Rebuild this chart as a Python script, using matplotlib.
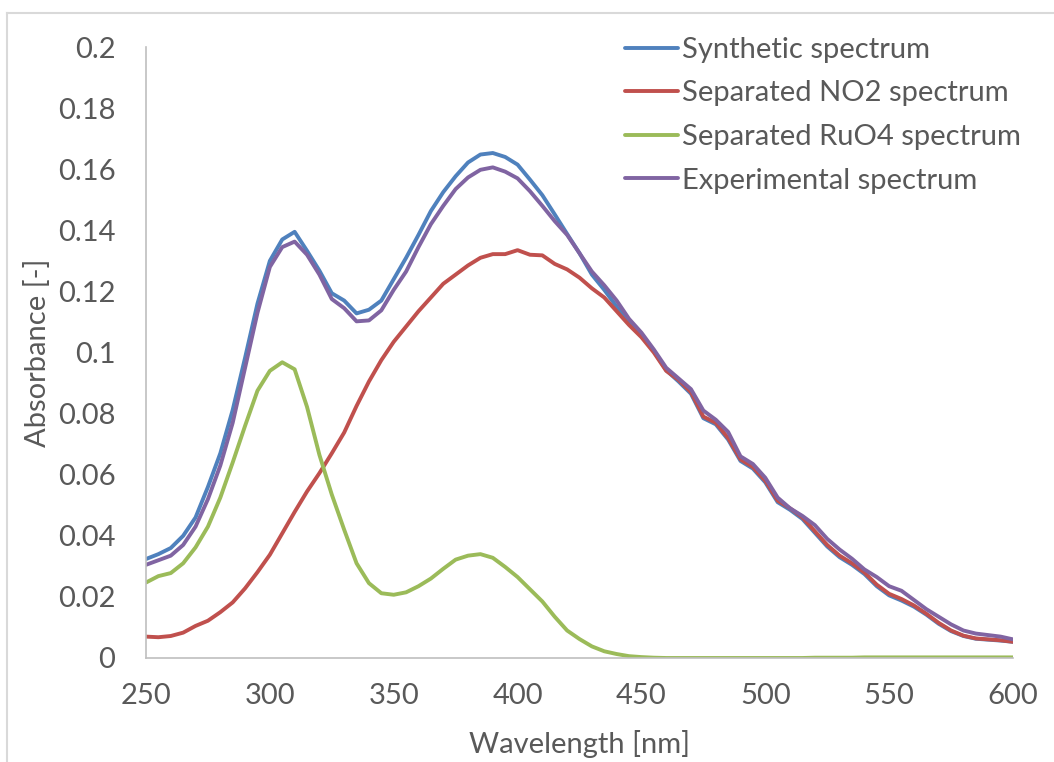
import numpy as np
import matplotlib.pyplot as plt
from matplotlib.lines import Line2D

plt.rcParams['font.family'] = ['Lato', 'DejaVu Sans']

# wavelength grid [nm], values every 5 nm
wavelength = np.arange(250, 601, 5)

synthetic = [
    0.0324, 0.0340, 0.0360, 0.0400, 0.0460, 0.0560, 0.0670, 0.0812, 0.0983, 0.1160,
    0.1300, 0.1370, 0.1395, 0.1333, 0.1268, 0.1194, 0.1170, 0.1128, 0.1140, 0.1170,
    0.1240, 0.1310, 0.1385, 0.1463, 0.1525, 0.1577, 0.1622, 0.1648, 0.1653, 0.1640,
    0.1615, 0.1566, 0.1515, 0.1452, 0.1388, 0.1325, 0.1255, 0.1205, 0.1150, 0.1095,
    0.1055, 0.1005, 0.0942, 0.0905, 0.0865, 0.0785, 0.0765, 0.0715, 0.0645, 0.0620,
    0.0575, 0.0510, 0.0485, 0.0455, 0.0410, 0.0365, 0.0330, 0.0305, 0.0275, 0.0235,
    0.0205, 0.0188, 0.0168, 0.0142, 0.0112, 0.0088, 0.0072, 0.0063, 0.0060, 0.0057,
    0.0053,
]

no2 = [
    0.0070, 0.0068, 0.0072, 0.0083, 0.0105, 0.0122, 0.0150, 0.0182, 0.0228, 0.0281,
    0.0338, 0.0408, 0.0478, 0.0545, 0.0605, 0.0670, 0.0738, 0.0825, 0.0905, 0.0975,
    0.1035, 0.1085, 0.1135, 0.1180, 0.1225, 0.1255, 0.1285, 0.1310, 0.1322, 0.1322,
    0.1335, 0.1320, 0.1318, 0.1290, 0.1272, 0.1245, 0.1210, 0.1180, 0.1135, 0.1090,
    0.1050, 0.1000, 0.0940, 0.0910, 0.0870, 0.0790, 0.0770, 0.0720, 0.0650, 0.0625,
    0.0580, 0.0515, 0.0490, 0.0460, 0.0415, 0.0370, 0.0335, 0.0310, 0.0280, 0.0240,
    0.0210, 0.0193, 0.0172, 0.0145, 0.0115, 0.0090, 0.0073, 0.0064, 0.0061, 0.0058,
    0.0053,
]

ruo4 = [
    0.0247, 0.0268, 0.0278, 0.0310, 0.0362, 0.0430, 0.0525, 0.0640, 0.0760, 0.0875,
    0.0940, 0.0968, 0.0945, 0.0822, 0.0665, 0.0535, 0.0420, 0.0310, 0.0245, 0.0212,
    0.0207, 0.0215, 0.0235, 0.0260, 0.0292, 0.0322, 0.0335, 0.0340, 0.0328, 0.0298,
    0.0265, 0.0225, 0.0185, 0.0135, 0.0090, 0.0062, 0.0038, 0.0022, 0.0013, 0.0006,
    0.0003, 0.0001, 0.0000, 0.0000, 0.0000, 0.0000, 0.0000, 0.0000, 0.0000, 0.0000,
    0.0000, 0.0000, 0.0000, 0.0000, 0.0001, 0.0001, 0.0001, 0.0001, 0.0002, 0.0002,
    0.0002, 0.0002, 0.0002, 0.0002, 0.0002, 0.0002, 0.0002, 0.0002, 0.0002, 0.0002,
    0.0002,
]

experimental = [
    0.0305, 0.0320, 0.0335, 0.0370, 0.0430, 0.0520, 0.0630, 0.0770, 0.0950, 0.1130,
    0.1280, 0.1345, 0.1363, 0.1320, 0.1255, 0.1175, 0.1145, 0.1102, 0.1105, 0.1138,
    0.1205, 0.1265, 0.1345, 0.1420, 0.1480, 0.1535, 0.1573, 0.1598, 0.1606, 0.1592,
    0.1570, 0.1528, 0.1480, 0.1430, 0.1385, 0.1325, 0.1265, 0.1220, 0.1170, 0.1110,
    0.1065, 0.1010, 0.0950, 0.0915, 0.0880, 0.0810, 0.0780, 0.0740, 0.0660, 0.0635,
    0.0590, 0.0525, 0.0490, 0.0465, 0.0435, 0.0390, 0.0355, 0.0325, 0.0290, 0.0265,
    0.0235, 0.0220, 0.0190, 0.0160, 0.0135, 0.0110, 0.0090, 0.0080, 0.0075, 0.0070,
    0.0061,
]

labels = ['Synthetic spectrum', 'Separated NO2 spectrum',
          'Separated RuO4 spectrum', 'Experimental spectrum']
colors = ['#4F81BD', '#C0504D', '#9BBB59', '#8064A2']

text_color = '#595959'
axis_color = '#BFBFBF'
fs = 21

fig = plt.figure(figsize=(10.54, 7.62), dpi=100)
ax = fig.add_axes([146 / 1054, 104 / 762, 867 / 1054, 611 / 762])

for series, label, color in zip([synthetic, no2, ruo4, experimental], labels, colors):
    ax.plot(wavelength, series, color=color, lw=2.8, label=label,
            solid_capstyle='round', solid_joinstyle='round')

ax.set_xlim(250, 600)
ax.set_ylim(0, 0.2)
ax.set_xticks(np.arange(250, 601, 50))
ax.set_yticks(np.arange(0, 0.201, 0.02))
ax.set_yticklabels(['0', '0.02', '0.04', '0.06', '0.08', '0.1',
                    '0.12', '0.14', '0.16', '0.18', '0.2'])

for side in ['top', 'right']:
    ax.spines[side].set_visible(False)
for side in ['left', 'bottom']:
    ax.spines[side].set_color(axis_color)
    ax.spines[side].set_linewidth(1.2)

ax.tick_params(axis='both', length=0, labelsize=fs, labelcolor=text_color)
ax.tick_params(axis='y', pad=22)
ax.tick_params(axis='x', pad=18)

ax.set_xlabel('Wavelength [nm]', fontsize=fs, color=text_color, labelpad=15)
ax.set_ylabel('Absorbance [-]', fontsize=fs, color=text_color, labelpad=5)

leg = ax.legend(loc='upper left', bbox_to_anchor=(625 / 1054, 1 - 37 / 762),
                bbox_transform=fig.transFigure, frameon=False, fontsize=fs,
                handlelength=1.8, handletextpad=0.17, labelspacing=0.6,
                borderaxespad=0, borderpad=0)
for t in leg.get_texts():
    t.set_color(text_color)

# light chart-area border (top and left edges visible in the crop)
fig.add_artist(Line2D([7 / 1054, 1], [1 - 13 / 762, 1 - 13 / 762],
                      transform=fig.transFigure, color='#D9D9D9', lw=1.5))
fig.add_artist(Line2D([7 / 1054, 7 / 1054], [0, 1 - 13 / 762],
                      transform=fig.transFigure, color='#D9D9D9', lw=1.5))

fig.savefig('out.png', dpi=100)
